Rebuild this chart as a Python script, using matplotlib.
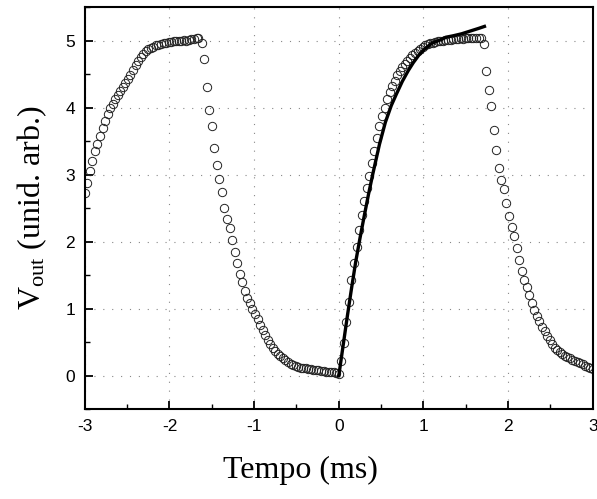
import numpy as np
import matplotlib
matplotlib.use("Agg")
import matplotlib.pyplot as plt
from matplotlib.ticker import MultipleLocator

plt.rcParams["axes.unicode_minus"] = False
plt.rcParams["mathtext.fontset"] = "custom"
plt.rcParams["mathtext.rm"] = "Liberation Serif"
plt.rcParams["mathtext.it"] = "Liberation Serif:italic"

x_rise1 = [-3.00, -2.97, -2.94, -2.91, -2.88, -2.85, -2.82, -2.79, -2.76, -2.73,
           -2.70, -2.67, -2.64, -2.61, -2.58, -2.55, -2.52, -2.49, -2.46, -2.43,
           -2.40, -2.37, -2.34, -2.31, -2.28, -2.25, -2.22, -2.19, -2.16, -2.13,
           -2.10, -2.07, -2.04, -2.01, -1.98, -1.95, -1.92, -1.89, -1.86, -1.83,
           -1.80, -1.77, -1.74, -1.71, -1.68, -1.66]
y_rise1 = [2.72, 2.88, 3.05, 3.20, 3.35, 3.46, 3.57, 3.69, 3.80, 3.90,
           3.99, 4.06, 4.12, 4.19, 4.25, 4.31, 4.37, 4.43, 4.49, 4.56,
           4.63, 4.69, 4.75, 4.80, 4.84, 4.87, 4.89, 4.91, 4.93, 4.94,
           4.95, 4.96, 4.97, 4.98, 4.98, 4.99, 5.00, 4.99, 5.00, 5.01,
           5.00, 5.01, 5.02, 5.02, 5.03, 5.04]

x_fall1 = [-1.62, -1.59, -1.56, -1.53, -1.50, -1.47, -1.44, -1.41, -1.38, -1.35,
           -1.32, -1.29, -1.26, -1.23, -1.20, -1.17, -1.14, -1.11, -1.08, -1.05,
           -1.02, -0.99, -0.96, -0.93, -0.90, -0.87, -0.84, -0.81, -0.78, -0.75,
           -0.72, -0.69, -0.66, -0.63, -0.60, -0.57, -0.54, -0.51, -0.48, -0.45,
           -0.42, -0.39, -0.36, -0.33, -0.30, -0.27, -0.24, -0.21, -0.18, -0.15,
           -0.12, -0.09, -0.06, -0.03, 0.00]
y_fall1 = [4.97, 4.73, 4.30, 3.97, 3.72, 3.40, 3.15, 2.93, 2.74, 2.50,
           2.34, 2.20, 2.02, 1.84, 1.68, 1.52, 1.39, 1.26, 1.16, 1.08,
           1.00, 0.92, 0.84, 0.76, 0.68, 0.60, 0.53, 0.47, 0.42, 0.37,
           0.33, 0.29, 0.26, 0.23, 0.20, 0.18, 0.16, 0.15, 0.13, 0.12,
           0.12, 0.11, 0.10, 0.10, 0.09, 0.08, 0.08, 0.07, 0.07, 0.06,
           0.06, 0.05, 0.05, 0.04, 0.03]

x_rise2 = [0.03, 0.06, 0.09, 0.12, 0.15, 0.18, 0.21, 0.24, 0.27, 0.30,
           0.33, 0.36, 0.39, 0.42, 0.45, 0.48, 0.51, 0.54, 0.57, 0.60,
           0.63, 0.66, 0.69, 0.72, 0.75, 0.78, 0.81, 0.84, 0.87, 0.90,
           0.93, 0.96, 0.99, 1.02, 1.05, 1.08, 1.11, 1.14, 1.17, 1.20,
           1.23, 1.26, 1.29, 1.32, 1.35, 1.38, 1.41, 1.44, 1.47, 1.50,
           1.53, 1.56, 1.59, 1.62, 1.65, 1.68]
y_rise2 = [0.22, 0.48, 0.80, 1.10, 1.42, 1.68, 1.92, 2.18, 2.40, 2.60,
           2.80, 2.98, 3.18, 3.35, 3.55, 3.72, 3.88, 4.00, 4.12, 4.23,
           4.32, 4.40, 4.48, 4.55, 4.60, 4.65, 4.70, 4.74, 4.78, 4.82,
           4.85, 4.88, 4.91, 4.93, 4.95, 4.96, 4.97, 4.98, 4.99, 5.00,
           5.00, 5.01, 5.01, 5.01, 5.02, 5.02, 5.02, 5.03, 5.02, 5.03,
           5.03, 5.03, 5.04, 5.03, 5.04, 5.03]

x_fall2 = [1.71, 1.74, 1.77, 1.80, 1.83, 1.86, 1.89, 1.92, 1.95, 1.98,
           2.01, 2.04, 2.07, 2.10, 2.13, 2.16, 2.19, 2.22, 2.25, 2.28,
           2.31, 2.34, 2.37, 2.40, 2.43, 2.46, 2.49, 2.52, 2.55, 2.58,
           2.61, 2.64, 2.67, 2.70, 2.73, 2.76, 2.79, 2.82, 2.85, 2.88,
           2.91, 2.94, 2.97, 3.00]
y_fall2 = [4.95, 4.54, 4.26, 4.02, 3.66, 3.36, 3.10, 2.92, 2.78, 2.58,
           2.38, 2.22, 2.08, 1.90, 1.72, 1.56, 1.43, 1.32, 1.20, 1.09,
           0.98, 0.89, 0.81, 0.73, 0.66, 0.59, 0.53, 0.47, 0.42, 0.38,
           0.35, 0.32, 0.30, 0.28, 0.26, 0.24, 0.22, 0.21, 0.19, 0.17,
           0.15, 0.13, 0.12, 0.10]

# fitted curve (solid line)
x_fit = [0.00, 0.05, 0.10, 0.15, 0.20, 0.25, 0.30, 0.35, 0.40, 0.48,
         0.55, 0.62, 0.68, 0.75, 0.82, 0.88, 0.95, 1.02, 1.10, 1.20,
         1.27, 1.35, 1.45, 1.55, 1.65, 1.72]
y_fit = [0.00, 0.44, 0.88, 1.30, 1.70, 2.05, 2.38, 2.70, 3.00, 3.45,
         3.78, 4.03, 4.20, 4.39, 4.55, 4.67, 4.79, 4.88, 4.96, 5.01,
         5.05, 5.07, 5.10, 5.14, 5.18, 5.21]

x_data = x_rise1 + x_fall1 + x_rise2 + x_fall2
y_data = y_rise1 + y_fall1 + y_rise2 + y_fall2

fig = plt.figure(figsize=(5.97, 4.99), dpi=100)
ax = fig.add_axes([0.142, 0.180, 0.851, 0.806])

ax.plot(x_data, y_data, linestyle="none", marker="o", markersize=6,
        markerfacecolor="none", markeredgecolor="#222222", markeredgewidth=0.7)
ax.plot(x_fit, y_fit, color="black", lw=2.4)

ax.set_xlim(-3, 3)
ax.set_ylim(-0.5, 5.5)
ax.xaxis.set_major_locator(MultipleLocator(1))
ax.xaxis.set_minor_locator(MultipleLocator(0.5))
ax.yaxis.set_major_locator(MultipleLocator(1))
ax.yaxis.set_minor_locator(MultipleLocator(0.5))
ax.tick_params(which="major", direction="in", length=6, width=1.3,
               labelsize=12.5, top=False, right=False, pad=7)
ax.tick_params(which="minor", direction="in", length=3.5, width=1.0,
               top=False, right=False)
for lab in ax.get_xticklabels() + ax.get_yticklabels():
    lab.set_family("Liberation Sans")

ax.grid(True, which="major", color="#888888", linestyle=(0, (1, 7)), lw=0.8)
for s in ax.spines.values():
    s.set_linewidth(1.5)

ax.set_xlabel("Tempo (ms)", fontsize=23, family="Liberation Serif")
ax.xaxis.set_label_coords((300 - 85) / 506, -0.115)
ax.set_ylabel(r"V$_{\mathrm{out}}$ (unid. arb.)", fontsize=23,
              family="Liberation Serif", labelpad=12)

fig.savefig("out.png", dpi=100)
